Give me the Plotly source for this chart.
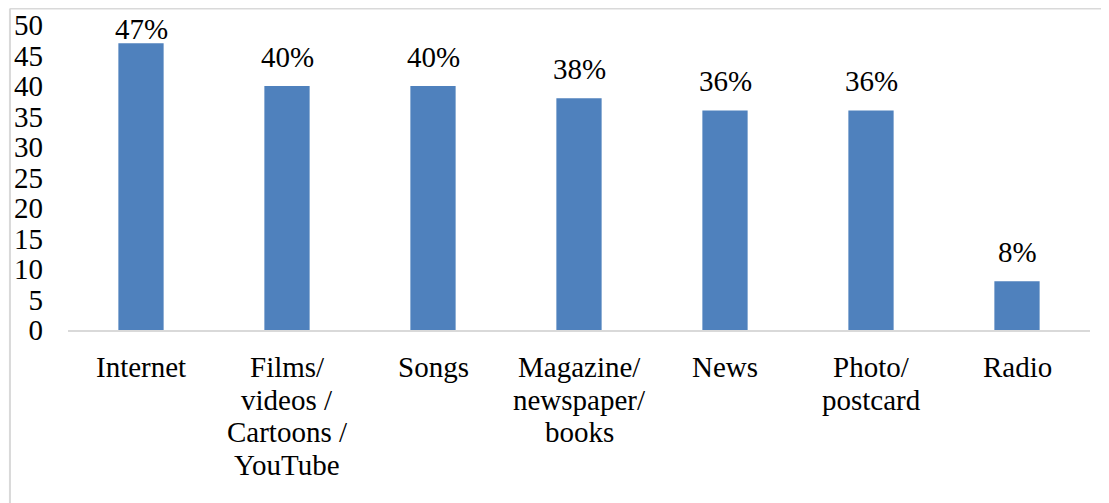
import plotly.graph_objects as go

categories = ["Internet", "Films/<br>videos /<br>Cartoons /<br>YouTube", "Songs",
              "Magazine/<br>newspaper/<br>books", "News", "Photo/<br>postcard", "Radio"]
values = [47, 40, 40, 38, 36, 36, 8]
labels = ["47%", "40%", "40%", "38%", "36%", "36%", "8%"]
y_ticks = [0, 5, 10, 15, 20, 25, 30, 35, 40, 45, 50]

font = "Liberation Serif, Times New Roman, serif"
fsize = 29

fig = go.Figure(go.Bar(
    x=categories, y=values,
    marker=dict(color="#4f81bd", line=dict(width=0)),
    cliponaxis=False,
))

annotations = []
# value labels: placed above bar ends, clamped to the top of the plot area (like Excel)
for cat, v, lab in zip(categories, values, labels):
    annotations.append(dict(
        x=cat, y=min(v + 4.75, 49.3), xref="x", yref="y", text=lab, showarrow=False,
        xanchor="center", yanchor="middle",
        font=dict(family=font, size=fsize, color="#000000"),
    ))
# category labels with tighter line spacing (as in the reference)
for cat in categories:
    for i, line in enumerate(cat.split("<br>")):
        annotations.append(dict(
            x=cat, y=0, xref="x", yref="paper", text=line, showarrow=False,
            xanchor="center", yanchor="middle", yshift=-37 - 32.5 * i,
            font=dict(family=font, size=fsize, color="#000000"),
        ))

fig.update_layout(
    width=1109, height=503,
    margin=dict(l=60, r=27, t=17, b=181, autoexpand=False),
    paper_bgcolor="white", plot_bgcolor="white",
    bargap=0.69, showlegend=False,
    font=dict(family=font, size=fsize, color="#000000"),
    xaxis=dict(showline=True, linecolor="#d9d9d9", linewidth=2, showgrid=False,
               ticks="", showticklabels=False, automargin=False),
    yaxis=dict(range=[0, 50], tickvals=y_ticks, showgrid=False, showline=False,
               zeroline=False, ticks="", tickfont=dict(family=font, size=fsize),
               ticklabelstandoff=24, automargin=False),
    annotations=annotations,
    shapes=[
        dict(type="line", xref="paper", yref="paper", x0=-0.0568, x1=1.1, y0=1.054, y1=1.054,
             line=dict(color="#d9d9d9", width=2)),
        dict(type="line", xref="paper", yref="paper", x0=-0.0568, x1=-0.0568, y0=1.054, y1=-0.6,
             line=dict(color="#d9d9d9", width=2)),
    ],
)

fig.write_html("out.html")
